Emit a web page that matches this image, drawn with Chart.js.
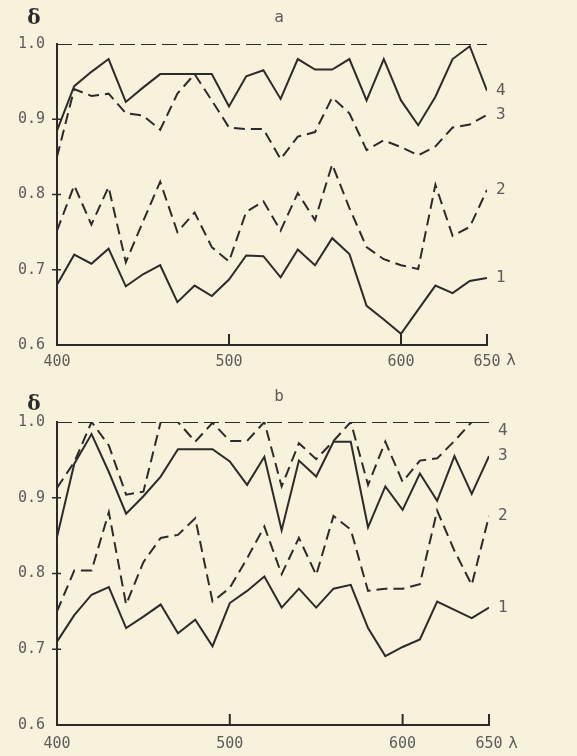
<!DOCTYPE html>
<html>
<head>
<meta charset="utf-8">
<script src="https://cdn.jsdelivr.net/npm/chart.js@4"></script>
<style>
  body { margin: 0; background: #f8f1dc; }
  .box { position: relative; width: 577px; height: 378px; }
</style>
</head>
<body>
<div class="box"><canvas id="chartA"></canvas></div>
<div class="box"><canvas id="chartB"></canvas></div>
<script>
// wavelength grid, nm
const wavelengths = [400, 410, 420, 430, 440, 450, 460, 470, 480, 490, 500, 510, 520,
  530, 540, 550, 560, 570, 580, 590, 600, 610, 620, 630, 640, 650];
const xTicks = [400, 500, 600, 650];
const yTicks = [0.6, 0.7, 0.8, 0.9, 1.0];
const unityRange = [400, 650];
const unityLine = [1.0, 1.0];

// panel a
const a1 = [0.680, 0.720, 0.708, 0.728, 0.678, 0.694, 0.706, 0.657, 0.679, 0.665, 0.687, 0.719, 0.718,
  0.690, 0.727, 0.706, 0.742, 0.721, 0.652, 0.634, 0.615, 0.647, 0.679, 0.669, 0.685, 0.689];
const a2 = [0.752, 0.812, 0.760, 0.810, 0.710, 0.764, 0.817, 0.750, 0.776, 0.730, 0.711, 0.777, 0.791,
  0.752, 0.802, 0.766, 0.840, 0.782, 0.730, 0.714, 0.706, 0.701, 0.813, 0.745, 0.757, 0.806];
const a3 = [0.850, 0.940, 0.931, 0.934, 0.908, 0.905, 0.886, 0.934, 0.960, 0.925, 0.889, 0.887, 0.887,
  0.847, 0.877, 0.883, 0.929, 0.908, 0.859, 0.872, 0.863, 0.852, 0.864, 0.889, 0.893, 0.906];
const a4 = [0.885, 0.944, 0.963, 0.980, 0.923, 0.942, 0.960, 0.960, 0.960, 0.960, 0.917, 0.957, 0.965,
  0.927, 0.980, 0.966, 0.966, 0.980, 0.925, 0.980, 0.925, 0.892, 0.930, 0.980, 0.997, 0.938];

// panel b
const b1 = [0.710, 0.745, 0.772, 0.782, 0.728, 0.743, 0.759, 0.721, 0.739, 0.704, 0.761, 0.777, 0.796,
  0.755, 0.780, 0.755, 0.780, 0.785, 0.728, 0.691, 0.703, 0.713, 0.763, 0.752, 0.741, 0.755];
const b2 = [0.750, 0.804, 0.804, 0.881, 0.759, 0.815, 0.847, 0.851, 0.873, 0.763, 0.781, 0.820, 0.862,
  0.799, 0.847, 0.798, 0.876, 0.858, 0.777, 0.780, 0.780, 0.786, 0.883, 0.830, 0.785, 0.876];
const b3 = [0.848, 0.945, 0.984, 0.934, 0.879, 0.902, 0.928, 0.964, 0.964, 0.964, 0.948, 0.917, 0.954,
  0.857, 0.949, 0.928, 0.974, 0.974, 0.861, 0.915, 0.884, 0.932, 0.896, 0.955, 0.905, 0.955];
const b4 = [0.913, 0.947, 1.000, 0.969, 0.904, 0.908, 1.000, 1.000, 0.974, 0.999, 0.975, 0.975, 1.000,
  0.915, 0.972, 0.951, 0.975, 1.000, 0.917, 0.974, 0.921, 0.949, 0.952, 0.975, 1.000, 1.000];

const ink = "#2b2b2b";
const grey = "#5c5c5c";
const mono = "'DejaVu Sans Mono', monospace";

function pts(xs, ys) {
  return ys.map((v, i) => ({ x: xs[i], y: v }));
}

function curve(values, tag, dashed, tagDy) {
  return {
    data: pts(wavelengths, values),
    tag,
    tagDy: tagDy || 0,
    borderColor: ink,
    borderWidth: 2,
    borderDash: dashed ? [11, 6] : [],
    pointRadius: 0,
    tension: 0,
    fill: false,
  };
}

const decor = {
  id: "decor",
  afterDraw(chart, args, opts) {
    const { ctx, chartArea, scales: { x, y } } = chart;
    ctx.save();
    ctx.strokeStyle = ink;
    ctx.lineWidth = 2;
    // inward ticks on the wavelength axis
    xTicks.slice(1).forEach((v) => {
      const px = x.getPixelForValue(v);
      ctx.beginPath();
      ctx.moveTo(px, chartArea.bottom);
      ctx.lineTo(px, chartArea.bottom - 11);
      ctx.stroke();
    });
    ctx.lineWidth = 1.5;
    yTicks.slice(1, 4).forEach((v) => {
      const py = y.getPixelForValue(v);
      ctx.beginPath();
      ctx.moveTo(chartArea.left - 5, py);
      ctx.lineTo(chartArea.left + 4, py);
      ctx.stroke();
    });

    // curve numbers
    ctx.fillStyle = grey;
    ctx.font = "16px " + mono;
    ctx.textBaseline = "middle";
    ctx.textAlign = "left";
    chart.data.datasets.forEach((ds, i) => {
      if (!ds.tag) return;
      const meta = chart.getDatasetMeta(i);
      const last = meta.data[meta.data.length - 1];
      ctx.fillText(ds.tag, last.x + 9, last.y + ds.tagDy);
    });

    // panel letter, delta and lambda
    ctx.textAlign = "center";
    ctx.fillText(opts.title, chartArea.left + 222, opts.titleY);
    ctx.fillText("λ", chartArea.right + 24, chartArea.bottom + opts.lambdaDy);
    ctx.fillStyle = ink;
    ctx.font = "bold 20px 'DejaVu Serif', serif";
    ctx.fillText("δ", 34, opts.deltaY);
    ctx.restore();
  },
};

function makeChart(id, series, panel) {
  const ctx = document.getElementById(id).getContext("2d");
  return new Chart(ctx, {
    type: "line",
    data: {
      datasets: [
        {
          data: pts(unityRange, unityLine),
          borderColor: ink,
          borderWidth: 2,
          borderDash: [15, 6],
          pointRadius: 0,
        },
        ...series,
      ],
    },
    options: {
      responsive: true,
      maintainAspectRatio: false,
      animation: false,
      layout: { padding: { top: 44, right: panel.right, left: 0, bottom: 0 } },
      plugins: {
        legend: { display: false },
        tooltip: { enabled: false },
        decor: panel,
      },
      scales: {
        x: {
          type: "linear",
          min: 400,
          max: 650,
          afterBuildTicks: (s) => { s.ticks = xTicks.map((v) => ({ value: v })); },
          afterFit: (s) => { s.height = panel.xHeight; },
          grid: { display: false, drawTicks: false },
          border: { display: true, color: ink, width: 2 },
          ticks: {
            color: grey,
            padding: panel.xPad,
            maxRotation: 0,
            font: { family: mono, size: 15 },
            callback: (v) => String(v),
          },
        },
        y: {
          min: 0.6,
          max: 1.0,
          afterBuildTicks: (s) => { s.ticks = yTicks.map((v) => ({ value: v })); },
          afterFit: (s) => { s.width = 57; },
          grid: { display: false, drawTicks: false },
          border: { display: true, color: ink, width: 2 },
          ticks: {
            color: grey,
            padding: 12,
            font: { family: mono, size: 15 },
            callback: (v) => v.toFixed(1),
          },
        },
      },
    },
    plugins: [decor],
  });
}

makeChart("chartA", [
  curve(a1, "1", false),
  curve(a2, "2", true),
  curve(a3, "3", true),
  curve(a4, "4", false),
], { title: "a", titleY: 18, deltaY: 19, lambdaDy: 16, right: 90, xHeight: 33, xPad: 8 });

makeChart("chartB", [
  curve(b1, "1", false),
  curve(b2, "2", true),
  curve(b3, "3", false),
  curve(b4, "4", true, 9),
], { title: "b", titleY: 19, deltaY: 27, lambdaDy: 19, right: 88, xHeight: 31, xPad: 10 });
</script>
</body>
</html>
